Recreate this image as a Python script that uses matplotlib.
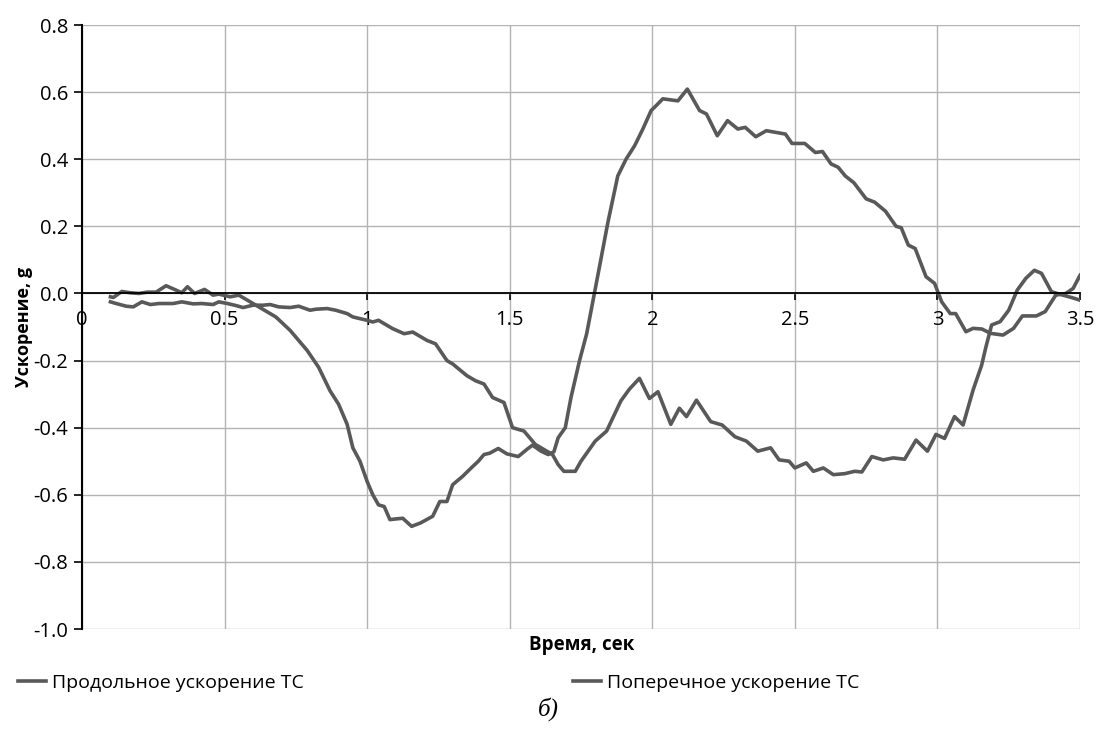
import numpy as np
import matplotlib
matplotlib.use("Agg")
import matplotlib.pyplot as plt
from matplotlib.lines import Line2D
from matplotlib.ticker import FixedLocator, FuncFormatter

plt.rcParams['font.family'] = ['Open Sans', 'DejaVu Sans']

# Продольное ускорение
t_long = [0.10, 0.12, 0.155, 0.18, 0.21, 0.24, 0.27, 0.32, 0.35, 0.39, 0.42, 0.46, 0.48,
          0.51, 0.54, 0.565, 0.60, 0.635, 0.66, 0.69, 0.73, 0.76, 0.80, 0.82, 0.86, 0.89,
          0.93, 0.95, 1.0, 1.02, 1.04, 1.09, 1.13, 1.16, 1.21, 1.24, 1.28, 1.30, 1.35,
          1.38, 1.41, 1.44, 1.48, 1.51, 1.55, 1.59, 1.63, 1.65, 1.67, 1.69, 1.73, 1.75,
          1.80, 1.84, 1.89, 1.92, 1.955, 1.99, 2.02, 2.065, 2.095, 2.12, 2.155, 2.205,
          2.245, 2.29, 2.33, 2.37, 2.415, 2.445, 2.48, 2.50, 2.54, 2.565, 2.60, 2.635,
          2.675, 2.71, 2.735, 2.77, 2.81, 2.845, 2.885, 2.925, 2.965, 2.995, 3.025,
          3.06, 3.09, 3.125, 3.155, 3.17, 3.19, 3.22, 3.25, 3.28, 3.31, 3.34, 3.365,
          3.40, 3.44, 3.47, 3.50]
acc_long = [-0.025, -0.03, -0.038, -0.04, -0.025, -0.033, -0.03, -0.03, -0.025, -0.031,
            -0.03, -0.033, -0.025, -0.03, -0.036, -0.042, -0.035, -0.035, -0.033, -0.04,
            -0.042, -0.038, -0.05, -0.047, -0.045, -0.05, -0.06, -0.07, -0.08, -0.085,
            -0.08, -0.105, -0.12, -0.115, -0.14, -0.15, -0.20, -0.21, -0.245, -0.26,
            -0.27, -0.31, -0.325, -0.40, -0.41, -0.45, -0.47, -0.48, -0.51, -0.53, -0.53,
            -0.50, -0.44, -0.41, -0.32, -0.285, -0.253, -0.313, -0.293, -0.39, -0.342,
            -0.367, -0.318, -0.382, -0.392, -0.427, -0.44, -0.47, -0.46, -0.496, -0.50,
            -0.52, -0.505, -0.53, -0.52, -0.54, -0.537, -0.53, -0.532, -0.486, -0.496,
            -0.49, -0.494, -0.437, -0.47, -0.42, -0.432, -0.367, -0.392, -0.288, -0.214,
            -0.16, -0.094, -0.084, -0.05, 0.01, 0.045, 0.069, 0.06, 0.005, -0.005,
            -0.012, -0.02]

# Поперечное ускорение
t_lat = [0.10, 0.11, 0.14, 0.17, 0.20, 0.23, 0.26, 0.295, 0.33, 0.35, 0.37, 0.395, 0.43,
         0.46, 0.48, 0.52, 0.55, 0.58, 0.62, 0.68, 0.73, 0.79, 0.83, 0.87, 0.90, 0.93,
         0.95, 0.975, 1.0, 1.02, 1.04, 1.06, 1.08, 1.10, 1.125, 1.156, 1.187, 1.23,
         1.255, 1.28, 1.30, 1.335, 1.365, 1.39, 1.41, 1.43, 1.46, 1.49, 1.53, 1.56,
         1.58, 1.61, 1.635, 1.655, 1.67, 1.695, 1.715, 1.745, 1.77, 1.797, 1.815,
         1.844, 1.879, 1.908, 1.938, 1.967, 1.996, 2.014, 2.037, 2.09, 2.123, 2.166,
         2.19, 2.228, 2.264, 2.30, 2.326, 2.363, 2.40, 2.467, 2.49, 2.535, 2.572,
         2.597, 2.627, 2.652, 2.677, 2.707, 2.75, 2.78, 2.818, 2.855, 2.873, 2.898,
         2.922, 2.96, 2.99, 3.015, 3.045, 3.064, 3.10, 3.125, 3.156, 3.187, 3.23,
         3.267, 3.298, 3.347, 3.378, 3.415, 3.45, 3.476, 3.50]
acc_lat = [-0.01, -0.012, 0.006, 0.002, 0.0, 0.004, 0.004, 0.023, 0.01, 0.002, 0.02, 0.0,
           0.012, -0.005, -0.002, -0.01, -0.005, -0.02, -0.04, -0.07, -0.11, -0.17,
           -0.22, -0.29, -0.33, -0.39, -0.46, -0.50, -0.56, -0.60, -0.63, -0.635, -0.674,
           -0.672, -0.67, -0.694, -0.684, -0.664, -0.62, -0.62, -0.57, -0.545, -0.52,
           -0.50, -0.48, -0.476, -0.462, -0.478, -0.486, -0.465, -0.452, -0.47, -0.48,
           -0.472, -0.43, -0.40, -0.31, -0.20, -0.12, 0.0, 0.08, 0.21, 0.35, 0.40, 0.44,
           0.49, 0.545, 0.56, 0.58, 0.574, 0.609, 0.545, 0.535, 0.47, 0.515, 0.49, 0.495,
           0.467, 0.485, 0.475, 0.447, 0.447, 0.42, 0.423, 0.386, 0.376, 0.35, 0.33,
           0.282, 0.272, 0.245, 0.20, 0.196, 0.144, 0.134, 0.05, 0.03, -0.025, -0.06,
           -0.06, -0.114, -0.104, -0.106, -0.119, -0.124, -0.104, -0.067, -0.067,
           -0.054, -0.005, 0.0, 0.015, 0.054]

x_ticks = [0, 0.5, 1, 1.5, 2, 2.5, 3, 3.5]
y_ticks = [-1.0, -0.8, -0.6, -0.4, -0.2, 0.0, 0.2, 0.4, 0.6, 0.8]

line_color = '#595959'

fig = plt.figure(figsize=(10.97, 7.31), dpi=100)
ax = fig.add_axes([0.0747, 0.1395, 0.9098, 0.8263])

ax.plot(t_long, acc_long, color=line_color, lw=2.6, solid_joinstyle='round')
ax.plot(t_lat, acc_lat, color=line_color, lw=2.6, solid_joinstyle='round')

ax.set_xlim(0, 3.5)
ax.set_ylim(-1.0, 0.8)
ax.xaxis.set_major_locator(FixedLocator(x_ticks))
ax.yaxis.set_major_locator(FixedLocator(y_ticks))
ax.xaxis.set_major_formatter(FuncFormatter(lambda v, p: '%g' % v))
ax.yaxis.set_major_formatter(FuncFormatter(lambda v, p: '%.1f' % v))

ax.grid(True, color='#b3b3b3', lw=1.0)
ax.set_axisbelow(True)
ax.spines['top'].set_visible(False)
ax.spines['right'].set_visible(False)
ax.spines['bottom'].set_position(('data', 0))
ax.spines['bottom'].set_color('black')
ax.spines['bottom'].set_linewidth(1.3)
ax.spines['left'].set_linewidth(1.5)
ax.tick_params(axis='x', direction='out', length=5, width=1.2, pad=7, labelsize=14.5)
ax.tick_params(axis='y', direction='out', length=6, width=1.2, pad=4, labelsize=14.5)

ax.set_ylabel('Ускорение, g', fontsize=13, fontweight='bold', labelpad=0)
fig.text(0.53, 0.118, 'Время, сек', fontsize=13.5, fontweight='bold', ha='center', va='center')

h1 = Line2D([], [], color=line_color, lw=2.6)
h2 = Line2D([], [], color=line_color, lw=2.6)
fig.legend([h1], ['Продольное ускорение ТС'], loc='center left', bbox_to_anchor=(0.0, 0.066),
           frameon=False, fontsize=14, handlelength=1.45, handletextpad=0.3)
fig.legend([h2], ['Поперечное ускорение ТС'], loc='center left', bbox_to_anchor=(0.506, 0.066),
           frameon=False, fontsize=14, handlelength=1.45, handletextpad=0.3)

fig.text(0.5, 0.03, 'б)', fontsize=18, style='italic', family='Liberation Serif',
         ha='center', va='center')

fig.savefig('out.png', dpi=100)
